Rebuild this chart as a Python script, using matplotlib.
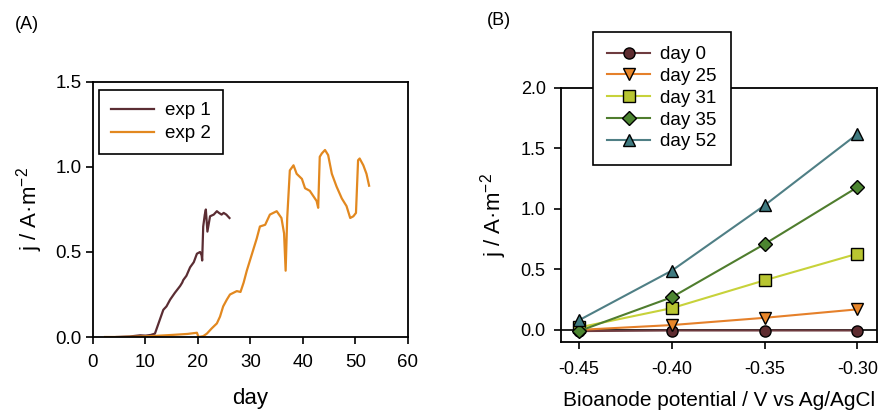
import numpy as np
import matplotlib.pyplot as plt

plt.rcParams['font.family'] = ['Liberation Sans', 'DejaVu Sans']
plt.rcParams['mathtext.fontset'] = 'custom'
plt.rcParams['mathtext.rm'] = 'Liberation Sans'
plt.rcParams['mathtext.it'] = 'Liberation Sans:italic'

# (A) chronoamperometry
exp1_day = [4.5, 7.0, 9.0, 10.0, 11.0, 11.8, 12.6, 13.4, 14.0, 14.7, 15.6, 16.6, 17.0, 17.2, 17.8,
            18.5, 19.2, 19.8, 20.4, 20.7, 20.8, 21.0, 21.3, 21.5, 21.8, 22.3, 23.0, 23.6,
            24.0, 24.5, 24.9, 25.4, 26.0]
exp1_j = [0.0, 0.003, 0.01, 0.008, 0.012, 0.02, 0.09, 0.16, 0.18, 0.22, 0.26, 0.30, 0.32, 0.335, 0.36,
          0.41, 0.44, 0.49, 0.50, 0.48, 0.45, 0.65, 0.72, 0.75, 0.62, 0.71, 0.72, 0.74,
          0.73, 0.72, 0.73, 0.72, 0.70]

exp2_day = [2.3, 5.0, 8.0, 11.0, 15.0, 18.0, 19.8, 20.1, 21.0, 21.7, 22.6, 23.6, 24.2, 24.8, 25.5, 26.1,
            27.4, 28.1, 28.7, 29.3, 30.5, 31.2, 31.8, 32.8, 33.7, 35.0, 35.9, 36.4, 36.7,
            37.0, 37.5, 38.2, 38.8, 39.8, 40.4, 41.3, 42.6, 42.9, 43.2, 43.6, 44.2, 44.8,
            45.5, 46.4, 47.4, 48.3, 49.0, 49.6, 50.1, 50.5, 50.8, 51.5, 52.1, 52.6]
exp2_j = [0.0, 0.0, 0.002, 0.005, 0.012, 0.018, 0.025, 0.0, 0.005, 0.02, 0.05, 0.08, 0.12, 0.18, 0.22, 0.25,
          0.27, 0.265, 0.32, 0.39, 0.51, 0.58, 0.65, 0.66, 0.72, 0.74, 0.70, 0.61, 0.39,
          0.70, 0.98, 1.01, 0.96, 0.93, 0.875, 0.86, 0.80, 0.76, 1.06, 1.08, 1.10, 1.07,
          0.96, 0.885, 0.815, 0.77, 0.70, 0.71, 0.73, 1.04, 1.05, 1.01, 0.96, 0.89]

# (B) polarisation curves
potential = [-0.45, -0.40, -0.35, -0.30]
day_labels = ['day 0', 'day 25', 'day 31', 'day 35', 'day 52']
j_curves = [
    [-0.01, -0.005, -0.005, -0.005],
    [0.0, 0.04, 0.10, 0.17],
    [0.02, 0.18, 0.41, 0.63],
    [-0.01, 0.27, 0.71, 1.18],
    [0.08, 0.49, 1.03, 1.62],
]
line_colors = ['#6e3b3f', '#e5802a', '#c7d23a', '#4f7d2e', '#4f7f85']
marker_colors = ['#5e2c30', '#e8862a', '#b8c531', '#4c8530', '#3f7a80']
markers = ['o', 'v', 's', 'D', '^']
marker_sizes = [8, 8, 8, 7.5, 8.5]

fig = plt.figure(figsize=(8.83, 4.16), dpi=100)

# ---------- (A) ----------
ax1 = fig.add_axes([0.1053, 0.1899, 0.3567, 0.613])
ax1.plot(exp1_day, exp1_j, color='#5b2d33', lw=1.6, label='exp 1')
ax1.plot(exp2_day, exp2_j, color='#e2881f', lw=1.6, label='exp 2')
ax1.set_xlim(0, 60)
ax1.set_ylim(0, 1.5)
ax1.set_xticks([0, 10, 20, 30, 40, 50, 60])
ax1.set_yticks([0.0, 0.5, 1.0, 1.5])
ax1.set_yticklabels(['0.0', '0.5', '1.0', '1.5'])
ax1.tick_params(direction='out', length=5, width=1.2, labelsize=13.5)
ax1.tick_params(axis='x', pad=7.5)
ax1.tick_params(axis='y', pad=3)
for s in ax1.spines.values():
    s.set_linewidth(1.3)
ax1.set_xlabel('day', fontsize=16, labelpad=12)
ax1.set_ylabel('j / A·m$^{-2}$', fontsize=16, labelpad=8)
leg1 = ax1.legend(loc='upper left', bbox_to_anchor=(99 / 883, 1 - 90 / 416),
                  bbox_transform=fig.transFigure, fontsize=13.5, fancybox=False,
                  edgecolor='black', framealpha=1, handlelength=2.3, handletextpad=0.55,
                  borderpad=0.65, labelspacing=0.3, borderaxespad=0)
leg1.get_frame().set_linewidth(1.2)
fig.text(15 / 883, 1 - 24.5 / 416, '(A)', fontsize=13, va='center', ha='left')

# ---------- (B) ----------
ax2 = fig.add_axes([0.6353, 0.1779, 0.3579, 0.6106])
ax2.axhline(0, color='black', lw=1.2, zorder=1)
for lab, vals, lc, mc, mk, ms in zip(day_labels, j_curves, line_colors, marker_colors,
                                      markers, marker_sizes):
    ax2.plot(potential, vals, color=lc, lw=1.5, marker=mk, markersize=ms,
             markerfacecolor=mc, markeredgecolor='black', markeredgewidth=1.0,
             label=lab, zorder=3)
ax2.set_xlim(-0.4597, -0.2895)
ax2.set_ylim(-0.1, 2.0)
ax2.set_xticks(potential)
ax2.set_xticklabels(['-0.45', '-0.40', '-0.35', '-0.30'])
ax2.set_yticks([0.0, 0.5, 1.0, 1.5, 2.0])
ax2.set_yticklabels(['0.0', '0.5', '1.0', '1.5', '2.0'])
ax2.tick_params(direction='out', length=5, width=1.2, labelsize=13)
ax2.tick_params(axis='x', pad=9)
ax2.tick_params(axis='y', pad=6)
for s in ax2.spines.values():
    s.set_linewidth(1.3)
ax2.set_xlabel('Bioanode potential / V vs Ag/AgCl', fontsize=15, labelpad=9)
ax2.set_ylabel('j / A·m$^{-2}$', fontsize=16, labelpad=8)
leg2 = ax2.legend(loc='upper left', bbox_to_anchor=(593 / 883, 1 - 32 / 416),
                  bbox_transform=fig.transFigure, fontsize=13.5, fancybox=False,
                  edgecolor='black', framealpha=1, handlelength=2.3, handletextpad=0.55,
                  borderpad=0.75, labelspacing=0.25, borderaxespad=0)
leg2.get_frame().set_linewidth(1.2)
leg2.set_zorder(5)
fig.text(487 / 883, 1 - 20.5 / 416, '(B)', fontsize=13, va='center', ha='left')

fig.savefig('out.png', dpi=100)
